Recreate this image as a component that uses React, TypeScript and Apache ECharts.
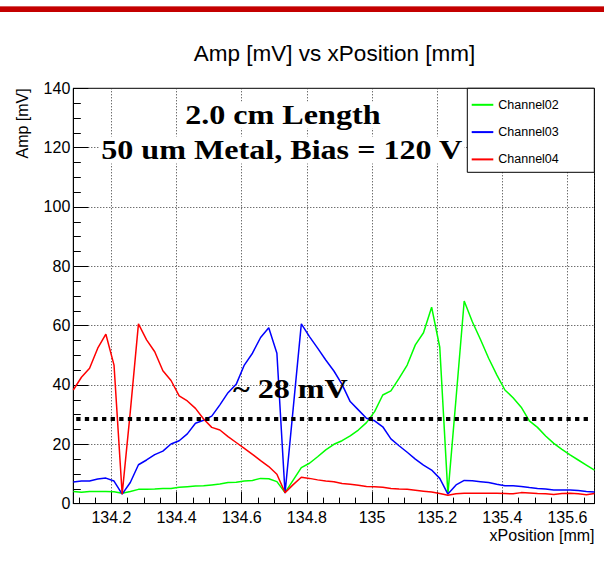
import React, { useEffect, useRef } from "react";
import * as echarts from "echarts";

// x positions [mm]
const xPosition = [
  134.083, 134.108, 134.133, 134.158, 134.183, 134.208, 134.233, 134.258, 134.283, 134.308,
  134.333, 134.358, 134.383, 134.408, 134.433, 134.458, 134.483, 134.508, 134.533, 134.558,
  134.583, 134.608, 134.633, 134.658, 134.683, 134.708, 134.733, 134.758, 134.783, 134.808,
  134.833, 134.858, 134.883, 134.908, 134.933, 134.958, 134.983, 135.008, 135.033, 135.058,
  135.083, 135.108, 135.133, 135.158, 135.183, 135.208, 135.233, 135.258, 135.283, 135.308,
  135.333, 135.358, 135.383, 135.408, 135.433, 135.458, 135.483, 135.508, 135.533, 135.558,
  135.583, 135.608, 135.633, 135.658, 135.683,
];

// Amplitudes [mV]
const channel02 = [
  4.1, 3.8, 4.1, 4.1, 4.1, 4.0, 3.5, 4.1, 4.8, 4.8, 4.9, 5.1, 5.1, 5.5, 5.7, 5.9, 6.0,
  6.3, 6.6, 7.1, 7.2, 7.6, 7.8, 8.5, 8.4, 7.4, 3.7, 7.9, 12.1, 13.6, 15.8, 18.1, 20.0,
  21.2, 22.8, 24.8, 27.3, 31.0, 36.6, 38.0, 42.2, 46.7, 53.5, 57.6, 66.2, 52.7, 3.2, 35.5, 68.3,
  61.3, 55.3, 49.0, 43.4, 38.3, 35.7, 32.5, 27.9, 25.7, 22.8, 20.3, 18.3, 16.4, 14.7, 13.0, 11.3,
];
const channel03 = [
  7.3, 7.6, 7.6, 8.3, 8.6, 7.6, 3.2, 7.1, 13.1, 14.7, 16.5, 17.7, 20.1, 21.2, 23.5, 27.1, 28.1,
  29.5, 33.3, 37.4, 40.2, 46.7, 50.7, 56.0, 59.3, 50.7, 3.5, 32.0, 60.6, 56.3, 52.4, 48.4, 44.7,
  40.2, 34.4, 31.6, 28.8, 27.9, 25.9, 21.8, 19.5, 17.3, 15.0, 13.0, 11.3, 8.5, 3.2, 6.3, 7.8,
  7.7, 7.4, 7.1, 6.5, 6.0, 6.0, 5.8, 5.4, 5.1, 4.9, 4.6, 4.6, 4.6, 4.4, 4.1, 3.9,
];
const channel04 = [
  38.3, 42.6, 45.6, 52.4, 57.1, 46.7, 3.2, 31.0, 60.6, 55.2, 51.2, 44.8, 41.5, 36.3, 34.6, 32.1, 28.5,
  25.7, 24.8, 22.6, 20.6, 18.6, 16.6, 14.5, 12.5, 9.9, 3.7, 6.4, 8.9, 8.5, 8.0, 7.6, 7.4,
  6.8, 6.5, 6.2, 5.8, 5.7, 5.5, 5.1, 4.9, 4.8, 4.5, 4.2, 3.9, 3.4, 2.8, 3.3, 3.5,
  3.5, 3.5, 3.5, 3.5, 3.4, 3.3, 3.7, 3.6, 3.4, 3.3, 3.1, 3.4, 3.5, 3.3, 3.0, 3.4,
];

const seriesNames = ["Channel02", "Channel03", "Channel04"];
const seriesData = [channel02, channel03, channel04];
const seriesColors = ["#00ff00", "#0000ff", "#ff0000"];

// ~28 mV reference line
const refLineX = [134.092, 135.663];
const refLineY = [28.5, 28.5];

const xRange = [134.083, 135.683];
const yRange = [0, 140];
const yStep = 20;

const titleText = "Amp [mV] vs xPosition [mm]";
const xAxisTitle = "xPosition [mm]";
const yAxisTitle = "Amp [mV]";
const annotations = ["2.0 cm Length", "50 um Metal, Bias = 120 V", "~ 28 mV"];

const SANS = '"Liberation Sans", Arial, Helvetica, sans-serif';
const SERIF = '"Liberation Serif", "Times New Roman", serif';

export default function App() {
  const ref = useRef<HTMLDivElement>(null);

  useEffect(() => {
    if (!ref.current) return;
    const chart = echarts.init(ref.current, null, { renderer: "svg" });

    const annoText = (text: string, x: number, y: number, withBg: boolean) => ({
      type: "text",
      x,
      y,
      scaleX: 1.19,
      z: 10,
      style: {
        text,
        fontSize: 27,
        fontWeight: "bold",
        fontFamily: SERIF,
        fill: "#000",
        align: "left",
        textAlign: "left",
        verticalAlign: "middle",
        textVerticalAlign: "middle",
        ...(withBg ? { backgroundColor: "#fff", padding: [0, 1] } : {}),
      },
    });

    const option: any = {
      animation: false,
      backgroundColor: "#ffffff",
      grid: {
        left: 73.3,
        top: 88.3,
        width: 521.2,
        height: 415.3,
        show: true,
        borderColor: "#000",
        borderWidth: 1,
        backgroundColor: "transparent",
        outerBoundsMode: "none",
      },
      xAxis: {
        type: "value",
        min: xRange[0],
        max: xRange[1],
        splitNumber: 8,
        axisLine: { show: true, onZero: false, lineStyle: { color: "#000", width: 1 } },
        axisTick: { show: true, inside: true, length: 12, lineStyle: { color: "#000", width: 1 } },
        minorTick: { show: true, splitNumber: 4, length: 6, lineStyle: { color: "#000", width: 1 } },
        axisLabel: {
          show: true,
          margin: 6,
          color: "#000",
          fontSize: 16,
          fontFamily: SANS,
          showMinLabel: false,
          showMaxLabel: false,
        },
        splitLine: { show: true, lineStyle: { color: "#333", width: 1, type: [1, 2] } },
        minorSplitLine: { show: false },
      },
      yAxis: {
        type: "value",
        min: yRange[0],
        max: yRange[1],
        interval: yStep,
        axisLine: { show: true, onZero: false, lineStyle: { color: "#000", width: 1 } },
        axisTick: { show: true, inside: true, length: 15, lineStyle: { color: "#000", width: 1 } },
        minorTick: { show: true, splitNumber: 4, length: 7.5, lineStyle: { color: "#000", width: 1 } },
        axisLabel: { show: true, margin: 3, color: "#000", fontSize: 16, fontFamily: SANS },
        splitLine: { show: true, lineStyle: { color: "#333", width: 1, type: [1, 2] } },
      },
      legend: {
        data: seriesNames,
        orient: "vertical",
        left: 467.3,
        top: 88.3,
        padding: [10, 0, 0, 4.4],
        itemWidth: 21.6,
        itemHeight: 14,
        itemGap: 14.3,
        icon: "path://M0,0 L21.6,0 L21.6,2 L0,2 Z",
        selectedMode: false,
        textStyle: { color: "#000", fontSize: 12.5, fontFamily: SANS },
        z: 5,
      },
      series: [
        ...seriesNames.map((name, k) => ({
          type: "line",
          name,
          data: xPosition.map((x, i) => [x, seriesData[k][i]]),
          symbol: "none",
          showSymbol: false,
          silent: true,
          lineStyle: { color: seriesColors[k], width: 1.5 },
          itemStyle: { color: seriesColors[k] },
          emphasis: { disabled: true },
          z: 2,
        })),
        {
          type: "line",
          name: "ref",
          data: refLineX.map((x, i) => [x, refLineY[i]]),
          symbol: "none",
          showSymbol: false,
          silent: true,
          lineStyle: { color: "#000", width: 4, type: [4.3, 4.3], cap: "butt" },
          emphasis: { disabled: true },
          z: 3,
        },
      ],
      graphic: {
        elements: [
          {
            type: "rect",
            shape: { x: 0, y: 6, width: 604, height: 1 },
            style: { fill: "#d65a5a" },
            z: 1,
          },
          {
            type: "rect",
            shape: { x: 0, y: 7, width: 604, height: 5 },
            style: { fill: "#c40000" },
            z: 1,
          },
          {
            type: "rect",
            shape: { x: 467.3, y: 88.3, width: 127, height: 84 },
            style: { fill: "#fff", stroke: "#000", lineWidth: 1 },
            z: 4,
          },
          {
            type: "text",
            x: 334.5,
            y: 53,
            z: 10,
            style: {
              text: titleText,
              fontSize: 22.5,
              fontFamily: SANS,
              fill: "#000",
              align: "center",
              textAlign: "center",
              verticalAlign: "middle",
              textVerticalAlign: "middle",
            },
          },
          {
            type: "text",
            x: 594.5,
            y: 535.5,
            z: 10,
            style: {
              text: xAxisTitle,
              fontSize: 16,
              fontFamily: SANS,
              fill: "#000",
              align: "right",
              textAlign: "right",
              verticalAlign: "middle",
              textVerticalAlign: "middle",
            },
          },
          {
            type: "text",
            x: 22.7,
            y: 88.3,
            rotation: Math.PI / 2,
            z: 10,
            style: {
              text: yAxisTitle,
              fontSize: 16,
              fontFamily: SANS,
              fill: "#000",
              align: "right",
              textAlign: "right",
              verticalAlign: "middle",
              textVerticalAlign: "middle",
            },
          },
          annoText(annotations[0], 184, 115, true),
          annoText(annotations[1], 100, 150, true),
          annoText(annotations[2], 233, 389, false),
        ],
      },
    };

    chart.setOption(option);
    return () => chart.dispose();
  }, []);

  return (
    <div
      ref={ref}
      style={{ position: "absolute", left: 0, top: 0, width: 604, height: 574, background: "#fff" }}
    />
  );
}
